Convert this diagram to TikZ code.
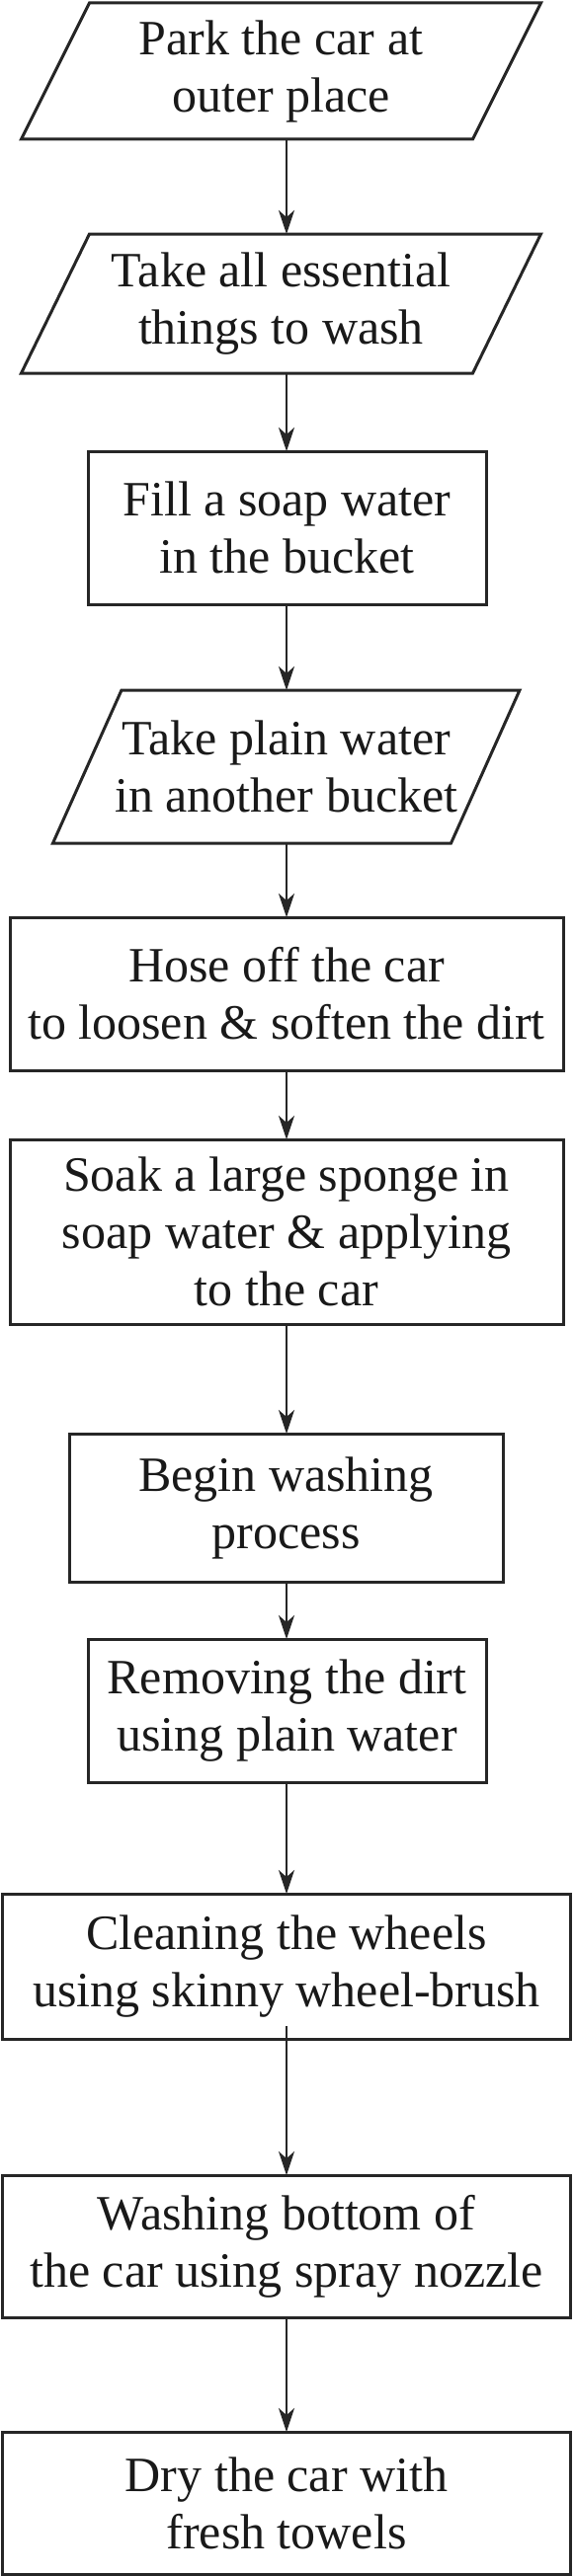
\documentclass[tikz,border=0pt]{standalone}
\usepackage{fontspec}
\setmainfont{Liberation Serif}
\usetikzlibrary{arrows.meta,calc}
\begin{document}
\begin{tikzpicture}[x=1pt,y=-1pt,
  txt/.style={draw=none,inner sep=0pt,outer sep=0pt,align=center,
    font=\fontsize{50}{58}\selectfont,text=black!90},
  rectbox/.style={txt,draw=black!85,line width=3pt},
  parabox/.style={txt},
  boxline/.style={draw=black!85,line width=3pt,line join=miter},
  arr/.style={draw=black!85,line width=2.4pt,-{Stealth[length=24pt,width=16pt,inset=7pt]}}]
\useasboundingbox (0,0) rectangle (581,2609);
\fill[white] (0,0) rectangle (581,2609);
\newcommand\parashape[2]{\draw[boxline] ($(#1.north west)+(#2,0)$) -- ($(#1.north east)+(#2,0)$) -- ($(#1.south east)-(#2,0)$) -- ($(#1.south west)-(#2,0)$) -- cycle;}
\coordinate (ax) at (290,0);
\node[parabox,minimum width=457pt,minimum height=138pt] (b1) at (284.5,72) {Park the car at\\outer place};
\parashape{b1}{34.5}
\node[parabox,minimum width=457pt,minimum height=141pt] (b2) at (284.5,307.5) {Take all essential\\things to wash};
\parashape{b2}{34.5}
\node[rectbox,minimum width=403pt,minimum height=155pt] (b3) at (290.5,534.5) {Fill a soap water\\in the bucket};
\node[parabox,minimum width=403pt,minimum height=155pt] (b4) at (289.75,776.5) {Take plain water\\in another bucket};
\parashape{b4}{34.75}
\node[rectbox,minimum width=560pt,minimum height=155pt] (b5) at (290,1006.5) {Hose off the car\\to loosen \& soften the dirt};
\node[rectbox,minimum width=560pt,minimum height=187pt] (b6) at (290,1247.5) {Soak a large sponge in\\soap water \& applying\\to the car};
\node[rectbox,minimum width=439pt,minimum height=150pt] (b7) at (289.5,1527) {Begin washing\\process};
\node[rectbox,minimum width=403pt,minimum height=145pt] (b8) at (290.5,1732.5) {Removing the dirt\\using plain water};
\node[rectbox,minimum width=575pt,minimum height=147pt] (b9) at (290,1991.5) {Cleaning the wheels\\using skinny wheel-brush};
\node[rectbox,minimum width=575pt,minimum height=144pt] (b10) at (290,2275) {Washing bottom of\\the car using spray nozzle};
\node[rectbox,minimum width=575pt,minimum height=144pt] (b11) at (290,2535) {Dry the car with\\fresh towels};
\draw[arr] (b1.south -| ax) -- (b2.north -| ax);
\draw[arr] (b2.south -| ax) -- (b3.north -| ax);
\draw[arr] (b3.south -| ax) -- (b4.north -| ax);
\draw[arr] (b4.south -| ax) -- (b5.north -| ax);
\draw[arr] (b5.south -| ax) -- (b6.north -| ax);
\draw[arr] (b6.south -| ax) -- (b7.north -| ax);
\draw[arr] (b7.south -| ax) -- (b8.north -| ax);
\draw[arr] (b8.south -| ax) -- (b9.north -| ax);
\draw[arr] ($(b9.south -| ax)+(0,-13)$) -- (b10.north -| ax);
\draw[arr] (b10.south -| ax) -- (b11.north -| ax);
\end{tikzpicture}
\end{document}
